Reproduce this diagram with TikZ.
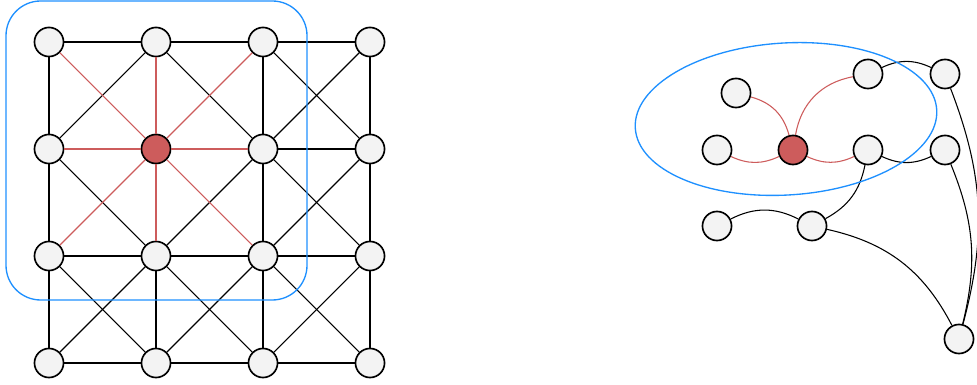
\documentclass[tikz,border=0pt]{standalone}

\definecolor{hubred}{HTML}{CD5C5C}
\definecolor{vtxgray}{HTML}{F3F3F3}
\definecolor{zoneblue}{HTML}{1E90FF}

\tikzset{
  vtx/.style={circle, draw, line width=1.25pt, fill=vtxgray, minimum size=21.8pt, inner sep=0pt},
  hubvtx/.style={vtx, fill=hubred},
  edge/.style={line width=0.8pt},
  hubedge/.style={line width=0.8pt, draw=hubred},
  zone/.style={line width=1pt, draw=zoneblue},
}

\begin{document}
\begin{tikzpicture}[x=75pt, y=75pt]
\useasboundingbox (0,0) rectangle (9.77,3.85);

% king graph on a 4x4 board
\begin{scope}[shift={(0.49,0.22)}, scale=1.07]
\node[vtx] (g03) at (0,3) {};
\node[vtx] (g13) at (1,3) {};
\node[vtx] (g23) at (2,3) {};
\node[vtx] (g33) at (3,3) {};

\node[vtx] (g02) at (0,2) {};
\node[hubvtx] (g12) at (1,2) {};
\node[vtx] (g22) at (2,2) {};
\node[vtx] (g32) at (3,2) {};

\node[vtx] (g01) at (0,1) {};
\node[vtx] (g11) at (1,1) {};
\node[vtx] (g21) at (2,1) {};
\node[vtx] (g31) at (3,1) {};

\node[vtx] (g00) at (0,0) {};
\node[vtx] (g10) at (1,0) {};
\node[vtx] (g20) at (2,0) {};
\node[vtx] (g30) at (3,0) {};
\end{scope}

% black edges, skipping the ones at the red vertex
\foreach \i/\k in {0/1,1/2,2/3}
  \foreach \j in {0,...,3}{
    \ifnum\i\j=12 \else \ifnum\k\j=12 \else \draw[edge] (g\i\j) -- (g\k\j); \fi\fi
    \ifnum\j\i=12 \else \ifnum\j\k=12 \else \draw[edge] (g\j\i) -- (g\j\k); \fi\fi
  }
\foreach \i/\k in {0/1,1/2,2/3}
  \foreach \j/\l in {0/1,1/2,2/3}{
    \ifnum\i\j=12 \else \ifnum\k\l=12 \else \draw[edge] (g\i\j) -- (g\k\l); \fi\fi
    \ifnum\i\l=12 \else \ifnum\k\j=12 \else \draw[edge] (g\i\l) -- (g\k\j); \fi\fi
  }
\foreach \n in {g01,g02,g03,g11,g13,g21,g22,g23}
  \draw[hubedge] (g12) -- (\n);

% the same vertex in a sparse graph
\node[vtx] (v1) at (7.36,2.92) {};
\node[vtx] (v2) at (7.17,2.35) {};
\node[hubvtx] (c) at (7.93,2.35) {};
\node[vtx] (v3) at (8.68,3.11) {};
\node[vtx] (v4) at (8.68,2.35) {};
\node[vtx] (v5) at (9.45,3.11) {};
\node[vtx] (v6) at (9.45,2.35) {};
\node[vtx] (v7) at (7.17,1.59) {};
\node[vtx] (v8) at (8.12,1.59) {};
\node[vtx] (v9) at (9.59,0.46) {};

\draw[hubedge] (v1) to[bend left=30] (c);
\draw[hubedge] (c) to[bend left=35] (v3);
\draw[hubedge] (v2) to[bend right=25] (c);
\draw[hubedge] (c) to[bend right=25] (v4);
\draw[edge] (v3) to[bend left=25] (v5);
\draw[edge] (v4) to[bend right=25] (v6);
\draw[edge] (v7) to[bend left=27] (v8);
\draw[edge] (v8) to[bend right=25] (v4);
\draw[edge] (v8) to[bend left=25] (v9);
\draw[edge] (v5) to[bend left=18] (v9);
\draw[edge] (v6) to[bend left=18] (v9);

% neighbourhoods
\draw[zone, rounded corners=26pt] (0.06,0.85) rectangle (3.07,3.84);
\draw[zone, shift={(7.86,2.66)}, rotate=3.5] (0,0) ellipse [x radius=1.51, y radius=0.76];
\end{tikzpicture}
\end{document}
